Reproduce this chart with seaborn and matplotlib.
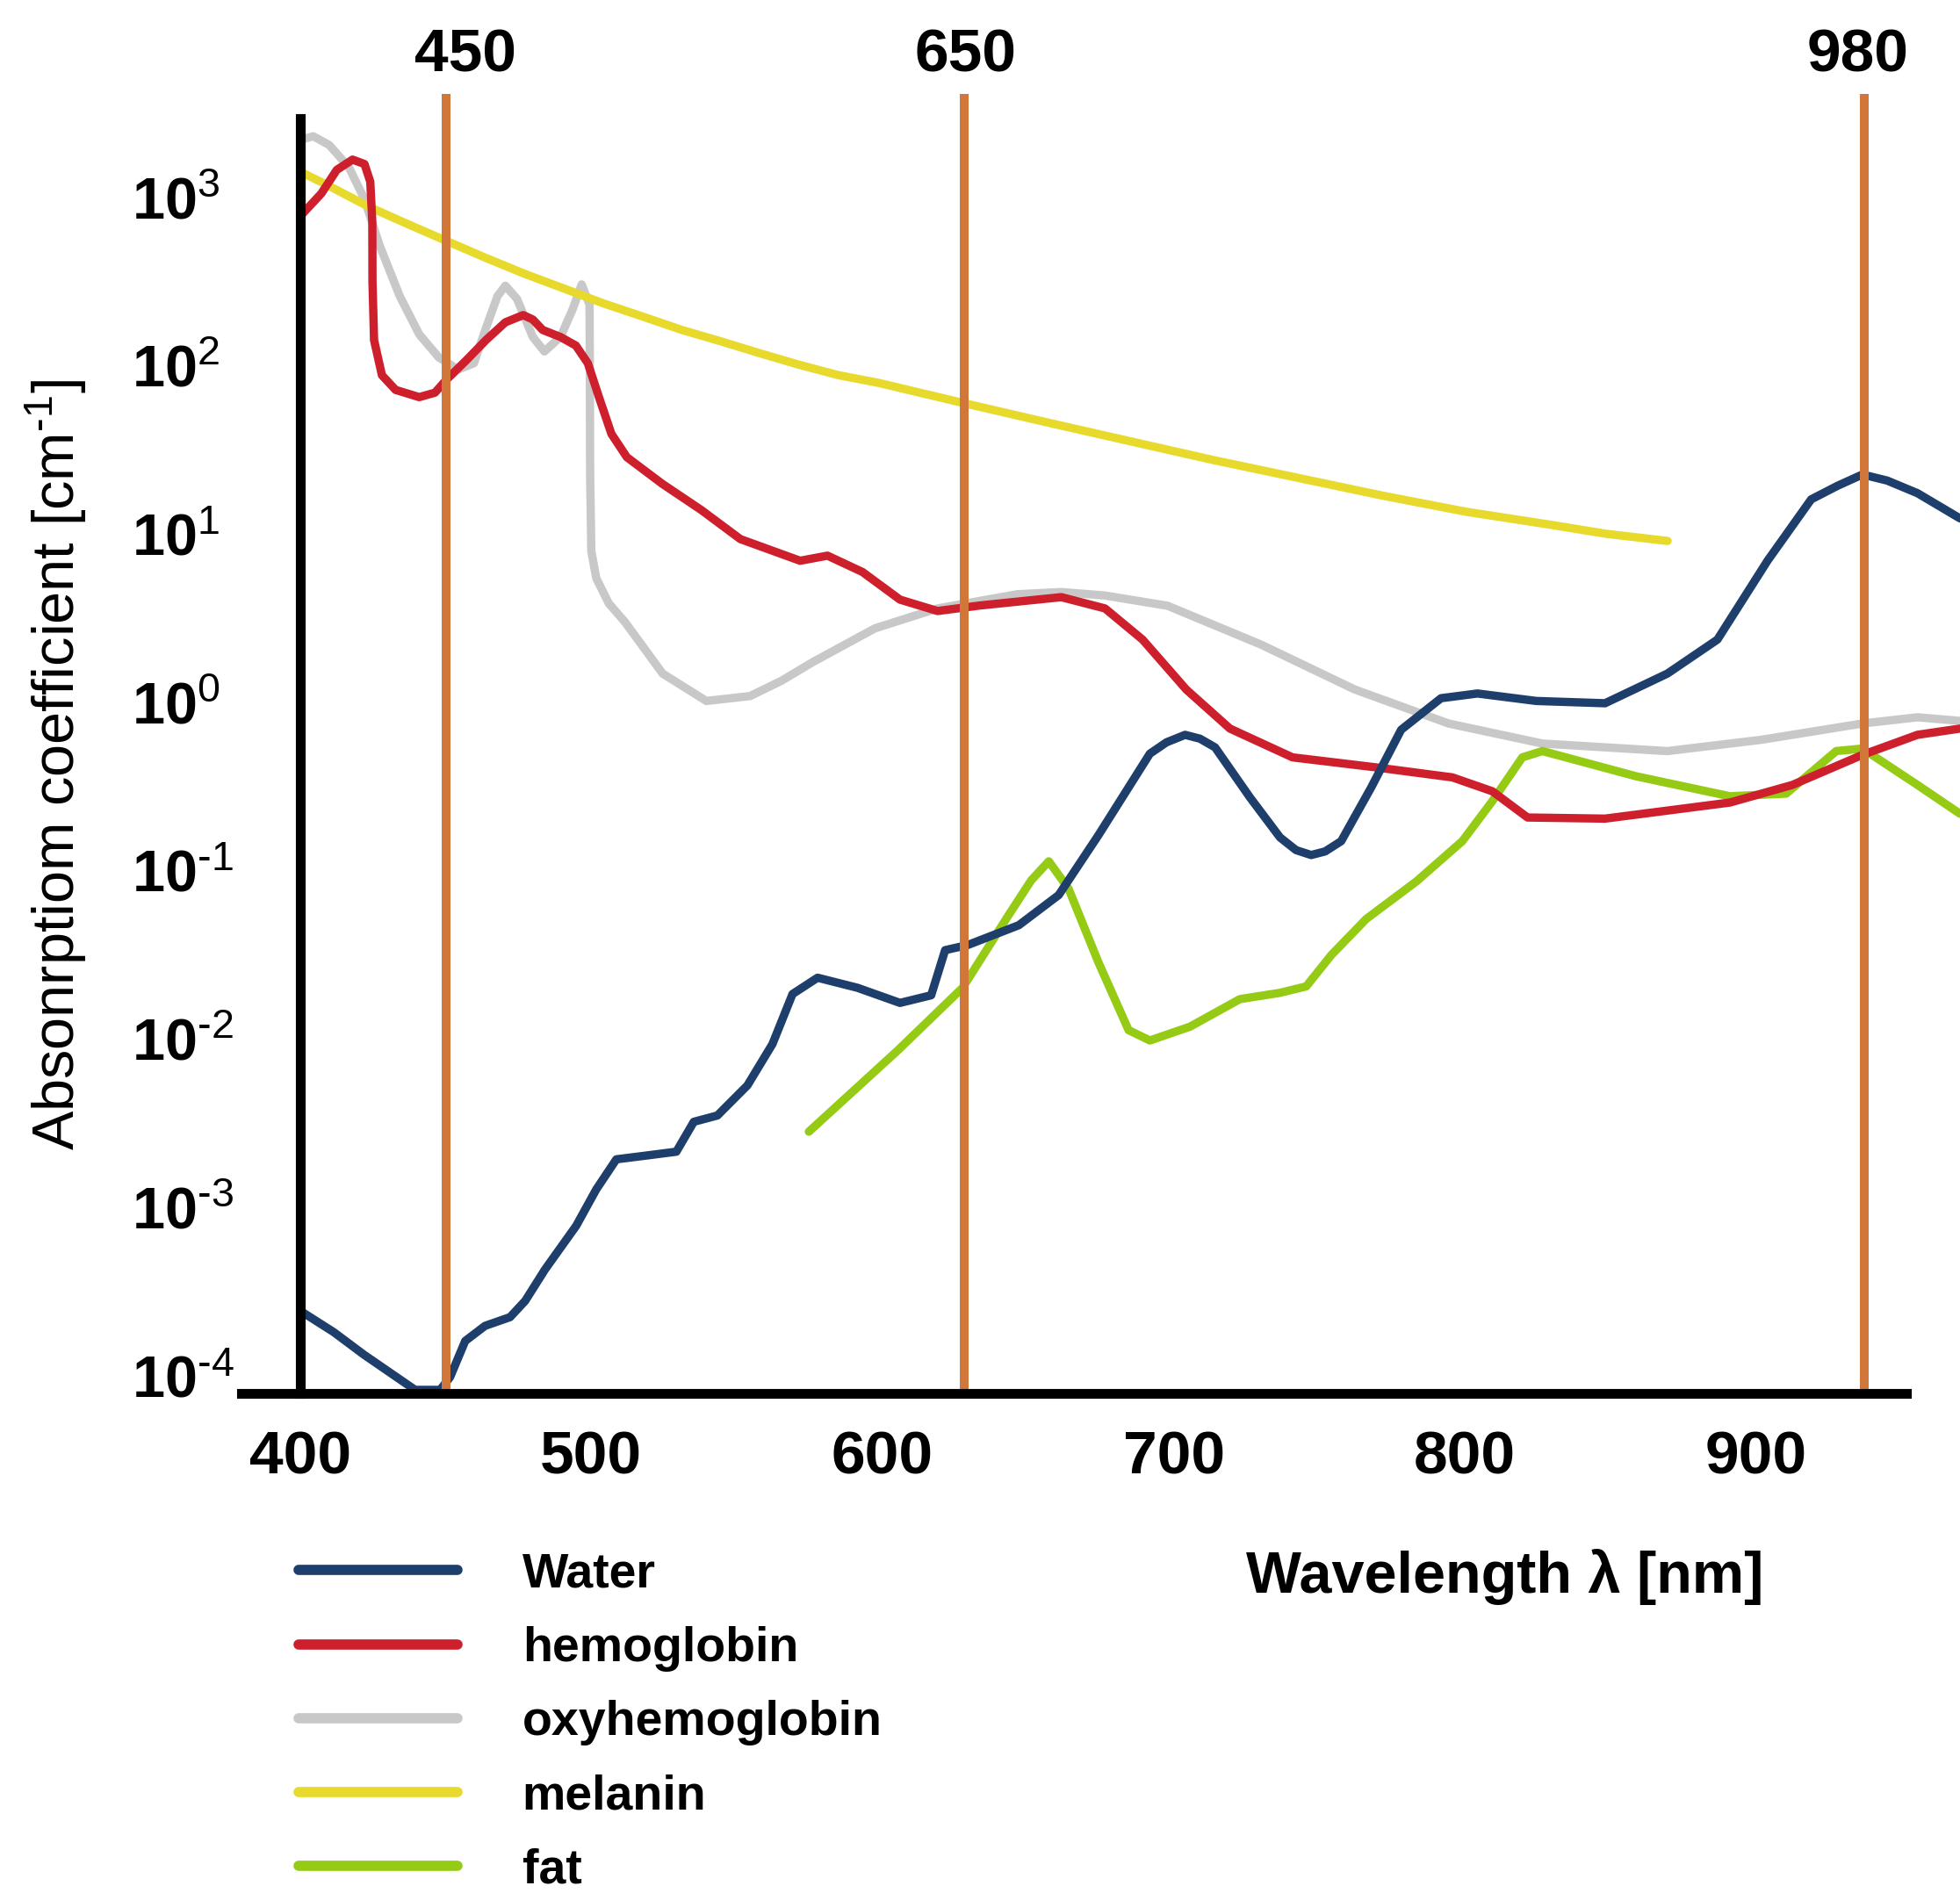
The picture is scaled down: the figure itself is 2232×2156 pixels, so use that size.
import matplotlib
matplotlib.use("Agg")
import matplotlib.pyplot as plt
import seaborn as sns
from matplotlib.transforms import ScaledTranslation

# ---------------- data ----------------
water_nm = [400, 411.6, 421.9, 439.5, 448.1, 451.5, 456.7, 463.5, 472.1, 477.3, 484.1,
            494.8, 501.7, 508.6, 518.9, 529.2, 535.2, 543.3, 553.6, 562.2, 569.1,
            577.7, 591.4, 606.0, 616.7, 621.5, 629.2, 646.8, 660.5, 674.2, 691.8,
            697.5, 703.9, 709.0, 714.2, 726.2, 736.5, 742.0, 747.2, 752.0, 757.5,
            767.8, 778.1, 791.8, 804.3, 824.5, 848.1, 869.5, 886.7, 903.9, 918.9,
            928.0, 936.5, 945.0, 955.4, 970.0]
water_mu = [3.1e-4, 2.31e-4, 1.7e-4, 1.05e-4, 1.05e-4, 1.25e-4, 2.05e-4, 2.52e-4, 2.84e-4, 3.55e-4, 5.45e-4,
            9.9e-4, 1.63e-3, 2.46e-3, 2.59e-3, 2.73e-3, 4.11e-3, 4.48e-3, 6.76e-3, 1.19e-2, 2.36e-2,
            2.95e-2, 2.57e-2, 2.09e-2, 2.32e-2, 4.30e-2, 4.61e-2, 6.05e-2, 9.14e-2, 0.208, 0.632,
            0.738, 0.818, 0.776, 0.689, 0.347, 0.201, 0.169, 0.158, 0.166, 0.191,
            0.398, 0.877, 1.35, 1.44, 1.30, 1.26, 1.89, 3.01, 8.85, 20.5,
            24.7, 28.8, 26.5, 22.3, 15.8]

hb_nm = [400, 407.3, 412.6, 418.0, 422.1, 424.1, 424.8, 424.85, 425.4, 428.1,
         432.8, 440.9, 446.3, 450.3, 457.0, 463.8, 470.5, 476.6, 479.9, 483.3,
         489.4, 494.7, 498.8, 502.8, 506.9, 512.2, 524.3, 537.8, 551.2, 571.7,
         581.1, 593.1, 606.0, 618.9, 633.5, 661.4, 676.4, 689.3, 704.3, 719.3,
         740.8, 769.5, 795.7, 809.4, 821.5, 848.1, 891.0, 912.4, 936.5, 955.4,
         970.0]
hb_mu = [984, 1346, 1858, 2138, 2014, 1582, 902, 405, 181, 112,
         91.6, 83.0, 88.2, 105.5, 137, 181, 231, 255, 240, 208,
         189, 168, 132, 81.3, 50.2, 36.5, 25.4, 17.7, 11.9, 8.85,
         9.49, 7.59, 5.20, 4.45, 4.8, 5.38, 4.61, 3.01, 1.52, 0.891,
         0.601, 0.524, 0.457, 0.378, 0.264, 0.260, 0.324, 0.412, 0.622, 0.818,
         0.891]

oxy_nm = [400, 404.5, 410.0, 416.7, 422.1, 427.4, 434.2, 440.9, 447.6, 454.3,
          459.7, 463.8, 467.8, 470.5, 474.5, 479.9, 483.9, 489.4, 493.4, 496.7,
          499.4, 499.5, 499.6, 500.0, 501.7, 506.0, 511.6, 524.5, 539.5, 554.5,
          565.2, 576.0, 597.4, 618.9, 646.4, 661.4, 676.4, 697.9, 730.0, 762.2,
          794.4, 826.6, 869.5, 901.7, 936.5, 955.4, 970.0]
oxy_mu = [2795, 2944, 2612, 1932, 1245, 655, 331, 196, 143, 121,
          132, 213, 331, 381, 318, 189, 155, 189, 271, 388,
          293, 112, 28.4, 10.1, 6.97, 4.94, 3.82, 1.89, 1.30, 1.39,
          1.71, 2.21, 3.51, 4.61, 5.6, 5.77, 5.5, 4.78, 2.81, 1.52,
          0.955, 0.726, 0.655, 0.764, 0.955, 1.04, 0.99]

mel_nm = [400, 410.0, 423.4, 436.9, 449.7, 463.8, 477.3, 490.7, 504.2, 517.6,
          531.1, 544.5, 558.0, 571.5, 584.9, 598.5, 627.7, 656.2, 685.0, 713.9,
          742.7, 771.5, 800.4, 829.2, 848.4, 869.6]
mel_mu = [1815, 1490, 1126, 886, 710, 557, 447, 366, 299, 250,
          208, 178, 151, 129, 112, 101, 76.6, 58.9, 45.4, 35.0,
          27.5, 21.6, 17.3, 14.5, 12.8, 11.6]

fat_nm = [574.7, 605.2, 627.5, 643.3, 651.1, 657.1, 663.9, 674.2, 684.5, 691.8,
          705.6, 722.7, 736.5, 745.5, 754.1, 766.1, 783.3, 799.1, 809.4, 819.7,
          826.6, 858.8, 891.0, 910.3, 927.5, 936.5, 955.4, 970.0]
fat_mu = [3.59e-3, 1.09e-2, 2.57e-2, 6.95e-2, 0.112, 0.145, 0.0995, 0.0362, 0.0144, 0.0125,
          0.0151, 0.0220, 0.0240, 0.0262, 0.0402, 0.0659, 0.110, 0.191, 0.330, 0.601,
          0.655, 0.464, 0.353, 0.366, 0.655, 0.678, 0.412, 0.278]

series_names = ["Water", "hemoglobin", "oxyhemoglobin", "melanin", "fat"]
marker_nm = [450, 628, 937]
marker_labels = ["450", "650", "980"]
x_ticks = [400, 500, 600, 700, 800, 900]
x_minor_ticks = [450, 550, 650, 750, 850, 950]
y_exponents = [-4, -3, -2, -1, 0, 1, 2, 3]

# ---------------- style ----------------
sns.set_style("white")
plt.rcParams["font.family"] = ["Liberation Sans", "DejaVu Sans"]
plt.rcParams["mathtext.fontset"] = "custom"
plt.rcParams["mathtext.rm"] = "Liberation Sans"
plt.rcParams["mathtext.it"] = "Liberation Sans:italic"
plt.rcParams["mathtext.bf"] = "Liberation Sans:bold"
for k in ["text.color", "axes.labelcolor", "xtick.color", "ytick.color"]:
    plt.rcParams[k] = "black"

colors = {"Water": "#1E3E6C", "hemoglobin": "#CD1F2C", "oxyhemoglobin": "#C8C8C8",
          "melanin": "#E7DA2C", "fat": "#95CB15"}
orange = "#D2773A"
LW = 3.4

fig = plt.figure(figsize=(11.16, 10.78), dpi=200)
ax = fig.add_axes([0.1231, 0.2639, 0.8769, 0.6866])

data = {"Water": (water_nm, water_mu), "hemoglobin": (hb_nm, hb_mu),
        "oxyhemoglobin": (oxy_nm, oxy_mu), "melanin": (mel_nm, mel_mu),
        "fat": (fat_nm, fat_mu)}
zorders = {"oxyhemoglobin": 2, "melanin": 2.2, "fat": 2.4, "hemoglobin": 2.6, "Water": 2.8}
for name in ["oxyhemoglobin", "melanin", "fat", "hemoglobin", "Water"]:
    x, y = data[name]
    sns.lineplot(x=x, y=y, ax=ax, sort=False, estimator=None, color=colors[name],
                 linewidth=LW, label=name, zorder=zorders[name])
for ln in ax.get_lines():
    ln.set_solid_capstyle("round")
    ln.set_solid_joinstyle("round")

ax.set_yscale("log")
ax.set_xlim(379.8, 970)
ax.set_ylim(1e-4, 5268)

for nm in marker_nm:
    ax.axvline(nm, color=orange, lw=3.6, zorder=5)
offsets = [8.2, 0.5, -2.6]
for nm, lab, dx in zip(marker_nm, marker_labels, offsets):
    ax.annotate(lab, xy=(nm, 1.0), xycoords=("data", "axes fraction"),
                xytext=(dx, 15.5), textcoords="offset points",
                ha="center", va="center", fontsize=25, fontweight="bold",
                annotation_clip=False)

# spines
for s in ["top", "right"]:
    ax.spines[s].set_visible(False)
ax.spines["left"].set_position(("data", 400))
ax.spines["left"].set_bounds(1e-4, 3742)
ax.spines["bottom"].set_bounds(379.8, 951.5)
for s in ["left", "bottom"]:
    ax.spines[s].set_linewidth(4)
    ax.spines[s].set_color("black")
    ax.spines[s].set_zorder(6)

ax.set_xticks(x_ticks)
ax.set_xticklabels([str(v) for v in x_ticks])
ax.set_xticks(x_minor_ticks, minor=True)
ax.set_yticks([10.0 ** e for e in y_exponents])
ax.set_yticklabels([r"$\mathbf{10}^{\text{%d}}$" % e for e in y_exponents])
ax.yaxis.set_minor_locator(matplotlib.ticker.NullLocator())
ax.tick_params(axis="x", which="major", direction="out", length=10, width=4,
               pad=5, labelsize=25, colors="black")
ax.tick_params(axis="x", which="minor", direction="out", length=6, width=4, colors="black")
ax.tick_params(axis="y", which="major", direction="out", length=19, width=4,
               pad=50, labelsize=24, colors="black")
for lab in ax.get_xticklabels():
    lab.set_fontweight("bold")
off = ScaledTranslation(0, -4 / 200, fig.dpi_scale_trans)
for lab in ax.get_yticklabels():
    lab.set_va("baseline")
    lab.set_ha("left")
    lab.set_transform(lab.get_transform() + off)
ax.set_xlabel("")
ax.set_ylabel("")
ax.grid(False)

fig.text(0.0287, 0.596, r"Absonrptiom coefficient [cm$^{\text{-1}}$]",
         rotation=90, fontsize=24, ha="center", va="center")
fig.text(0.768, 0.167, "Wavelength λ [nm]", fontsize=24, fontweight="bold",
         ha="center", va="center")

# legend
handles, labels = ax.get_legend_handles_labels()
hmap = dict(zip(labels, handles))
ax.get_legend().remove()
leg = fig.legend([hmap[n] for n in series_names], series_names,
                 loc="upper left", bbox_to_anchor=(0.1522, 0.1800),
                 frameon=False, borderpad=0, borderaxespad=0,
                 handlelength=3.27, handletextpad=1.32, labelspacing=0.58,
                 prop={"size": 20, "weight": "bold"})
for ln in leg.get_lines():
    ln.set_linewidth(4.2)
    ln.set_solid_capstyle("round")

fig.savefig("out.png", dpi=200, facecolor="white")
